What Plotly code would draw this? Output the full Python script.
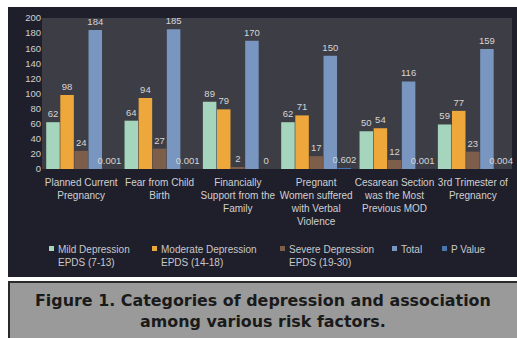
import plotly.graph_objects as go

categories = [
    "Planned Current<br>Pregnancy",
    "Fear from Child<br>Birth",
    "Financially<br>Support from the<br>Family",
    "Pregnant<br>Women suffered<br>with Verbal<br>Violence",
    "Cesarean Section<br>was the Most<br>Previous MOD",
    "3rd Trimester of<br>Pregnancy",
]
mild = [62, 64, 89, 62, 50, 59]
moderate = [98, 94, 79, 71, 54, 77]
severe = [24, 27, 2, 17, 12, 23]
total = [184, 185, 170, 150, 116, 159]
p_value = [0.001, 0.001, 0, 0.602, 0.001, 0.004]
p_labels = ["0.001", "0.001", "0", "0.602", "0.001", "0.004"]

series_names = [
    "Mild Depression<br>EPDS (7-13)",
    "Moderate Depression<br>EPDS (14-18)",
    "Severe Depression<br>EPDS (19-30)",
    "Total",
    "P Value",
]
series_values = [mild, moderate, severe, total, p_value]
series_labels = [None, None, None, None, p_labels]
series_colors = ["#a6d5be", "#eea73a", "#7d5e4a", "#7896c0", "#4a76b0"]
legend_px = [52, 155, 283, 395, 445]

W, H = 517, 338
L, R, T, B = 42, 5, 18, 169
pw = W - L - R
ph = H - T - B


def px_x(x):
    return (x - L) / pw


def px_y(y):
    return (H - B - y) / ph


fig = go.Figure()
for name, vals, color, labels in zip(series_names, series_values, series_colors, series_labels):
    fig.add_trace(go.Bar(
        x=categories, y=vals, name=name,
        marker=dict(color=color, line=dict(width=0)),
        text=labels if labels else [str(v) for v in vals],
        textposition="outside",
        constraintext="none",
        textfont=dict(color="#d6d6d6", size=9.5, family="Liberation Sans"),
        cliponaxis=False,
        showlegend=False,
    ))

shapes = [
    dict(type="rect", xref="paper", yref="paper", layer="below",
         x0=px_x(8), x1=px_x(517), y0=px_y(277), y1=px_y(7),
         fillcolor="#1f1f2c", line=dict(width=0)),
    dict(type="rect", xref="paper", yref="paper", layer="below",
         x0=0, x1=1, y0=0, y1=1,
         fillcolor="#3d3d45", line=dict(width=0)),
    dict(type="rect", xref="paper", yref="paper", layer="below",
         x0=px_x(9), x1=px_x(520), y0=px_y(340), y1=px_y(282),
         fillcolor="#9a9a9a", line=dict(color="#2a2a2a", width=2)),
]

annotations = [
    dict(xref="paper", yref="paper", x=px_x(263), y=px_y(311),
         xanchor="center", yanchor="middle", showarrow=False,
         text="<b>Figure 1. Categories of depression and association<br>among various risk factors.</b>",
         font=dict(family="DejaVu Sans", size=15.9, color="#1a1a1a")),
]

# manual legend (small square + label)
for name, color, lx in zip(series_names, series_colors, legend_px):
    shapes.append(dict(type="rect", xref="paper", yref="paper",
                       x0=px_x(lx - 3), x1=px_x(lx + 2),
                       y0=px_y(251), y1=px_y(246),
                       fillcolor=color, line=dict(width=0)))
    annotations.append(dict(xref="paper", yref="paper", x=px_x(lx + 4), y=px_y(242),
                            xanchor="left", yanchor="top", showarrow=False, align="left",
                            text=name,
                            font=dict(color="#c8c8c8", size=10, family="Liberation Sans")))

fig.update_layout(
    width=W, height=H,
    margin=dict(l=L, r=R, t=T, b=B, pad=0),
    paper_bgcolor="white",
    plot_bgcolor="rgba(0,0,0,0)",
    barmode="group",
    bargap=0.1,
    bargroupgap=0.04,
    shapes=shapes,
    showlegend=False,
    xaxis=dict(
        showgrid=False, zeroline=False, showline=False, ticks="",
        tickfont=dict(color="#d0d0d0", size=10, family="Liberation Sans"),
        tickangle=0, ticklabelstandoff=6,
    ),
    yaxis=dict(
        range=[0, 200], dtick=20, showgrid=False, zeroline=False,
        showline=False, ticks="",
        tickfont=dict(color="#d0d0d0", size=9.5, family="Liberation Sans"),
    ),
    annotations=annotations,
)

fig.write_html("out.html")
